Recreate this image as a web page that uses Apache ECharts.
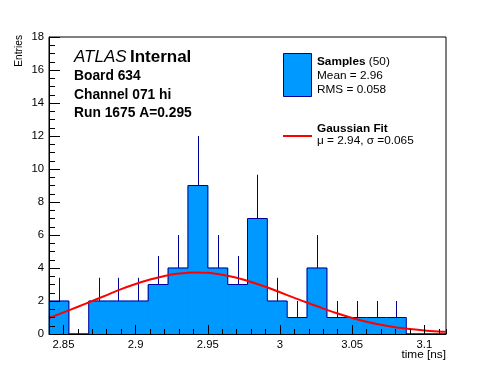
<!DOCTYPE html>
<html><head><meta charset="utf-8">
<script src="https://cdn.jsdelivr.net/npm/echarts@6/dist/echarts.min.js"></script>
<style>html,body{margin:0;padding:0;background:#fff}#c{width:496px;height:372px}</style>
</head><body><div id="c"></div>
<script>
// Histogram: 20 bins from 2.84 to 3.115
const binLow = 2.84;
const binWidth = 0.01375;
const counts = [2,0,2,2,2,3,4,9,4,3,7,2,1,4,1,1,1,1,0,0];
const errors = [1.41,0,1.41,1.41,1.41,1.73,2,3,2,1.73,2.65,1.41,1,2,1,1,1,1,0,0];
// Gaussian fit curve
const fitX = [2.84,2.85,2.86,2.87,2.88,2.89,2.90,2.91,2.92,2.93,2.94,2.95,2.96,2.97,2.98,2.99,3.00,3.01,3.02,3.03,3.04,3.05,3.06,3.07,3.08,3.09,3.10,3.11,3.115];
const fitY = [0.97,1.31,1.65,2.00,2.36,2.72,3.03,3.30,3.52,3.66,3.73,3.71,3.59,3.41,3.15,2.86,2.53,2.19,1.86,1.54,1.24,0.97,0.74,0.56,0.41,0.30,0.21,0.15,0.13];
const xTickLabels = ['2.85','2.9','2.95','3','3.05','3.1'];
const yTickLabels = ['0','2','4','6','8','10','12','14','16','18'];
const infoLines = ['Board 634','Channel 071 hi','Run 1675 A=0.295'];
const legendStats = ['Mean = 2.96','RMS = 0.058'];
const fitLabel = 'μ = 2.94, σ =0.065';

const FONT = '"Liberation Sans", Arial, Helvetica, sans-serif';
const NAVY = '#000099';
const FILL = '#0099ff';

const barData = counts.map((c,i)=>[binLow+i*binWidth, binLow+(i+1)*binWidth, c]);
const errData = counts.map((c,i)=>[binLow+(i+0.5)*binWidth, c, errors[i]]);
const outline = [];
counts.forEach((c,i)=>{ outline.push([binLow+i*binWidth, c]); outline.push([binLow+(i+1)*binWidth, c]); });
const fitData = fitX.map((x,i)=>[x, fitY[i]]);

const chart = echarts.init(document.getElementById('c'), null, {renderer:'canvas'});
const common = {type:'value', min:2.84, max:3.115, splitLine:{show:false}, z:10};
chart.setOption({
  animation:false,
  backgroundColor:'#fff',
  grid:{left:49, right:50, top:37, bottom:38, show:true, borderColor:'#000', borderWidth:1, backgroundColor:'#fff'},
  xAxis:[
    Object.assign({}, common, {
      splitNumber:5,
      axisLine:{show:true, lineStyle:{color:'#000', width:1}},
      axisTick:{show:true, inside:true, length:9, lineStyle:{color:'#000'}},
      axisLabel:{show:true, margin:5, color:'#000', fontSize:11.3, fontFamily:FONT,
        showMinLabel:false, showMaxLabel:false,
        formatter:v=>{ const s = String(+v.toFixed(3)); return xTickLabels.indexOf(s)>=0 ? s : ''; }}
    }),
    Object.assign({}, common, {
      interval:0.01, position:'bottom',
      axisLine:{show:false},
      axisTick:{show:true, inside:true, length:5, lineStyle:{color:'#000'}},
      axisLabel:{show:false}
    })
  ],
  yAxis:{type:'value', min:0, max:18, interval:2, splitLine:{show:false}, z:10,
    axisLine:{show:true, lineStyle:{color:'#000'}},
    axisTick:{show:true, inside:true, length:11, lineStyle:{color:'#000'}},
    minorTick:{show:true, splitNumber:4, length:6, lineStyle:{color:'#000'}},
    axisLabel:{margin:5, color:'#000', fontSize:11.3, fontFamily:FONT,
      formatter:v=>yTickLabels[Math.round(v/2)]}
  },
  series:[
    {type:'custom', name:'err', data:errData, encode:{x:0,y:1}, z:2,
      renderItem:(p,api)=>{
        const e = api.value(2); if(!e) return;
        const a = api.coord([api.value(0), api.value(1)-e]);
        const b = api.coord([api.value(0), api.value(1)+e]);
        return {type:'line', shape:{x1:Math.round(a[0])+0.5,y1:a[1],x2:Math.round(b[0])+0.5,y2:b[1]}, style:{stroke:NAVY, lineWidth:1}};
      }},
    {type:'custom', name:'bars', data:barData, encode:{x:[0,1],y:2}, z:3,
      renderItem:(p,api)=>{
        const c = api.value(2); if(!c) return;
        const a = api.coord([api.value(0), c]);
        const b = api.coord([api.value(1), 0]);
        const x0 = Math.round(a[0]), x1 = Math.round(b[0]);
        const y0 = Math.round(a[1]), y1 = Math.round(b[1]);
        return {type:'rect', shape:{x:x0, y:y0, width:x1-x0, height:y1-y0}, style:{fill:FILL, stroke:FILL, lineWidth:0.6}};
      }},
    {type:'line', name:'outline', data:outline, showSymbol:false, symbol:'none',
      lineStyle:{color:NAVY, width:1}, z:4},
    {type:'line', name:'fit', data:fitData, showSymbol:false, symbol:'none', smooth:0.3,
      lineStyle:{color:'#ff0000', width:2}, z:5}
  ],
  graphic:[
    {type:'text', x:19, y:35, rotation:Math.PI/2, style:{text:'Entries', font:'10.2px '+FONT, fill:'#000', align:'right', verticalAlign:'middle'}},
    {type:'text', x:446, y:355, style:{text:'time [ns]', font:'11.8px '+FONT, fill:'#000', align:'right', verticalAlign:'middle'}},
    {type:'text', x:74, y:57.5, style:{text:'{a|ATLAS} {b|Internal}', verticalAlign:'middle', fill:'#000',
      rich:{a:{fontStyle:'italic', fontSize:17, fontFamily:FONT, fill:'#000'}, b:{fontWeight:'bold', fontSize:17, fontFamily:FONT, fill:'#000'}}}},
    {type:'text', x:74, y:76.5, style:{text:infoLines[0], font:'bold 13.8px '+FONT, fill:'#000', verticalAlign:'middle'}},
    {type:'text', x:74, y:95, style:{text:infoLines[1], font:'bold 13.8px '+FONT, fill:'#000', verticalAlign:'middle'}},
    {type:'text', x:74, y:113.5, style:{text:infoLines[2], font:'bold 13.8px '+FONT, fill:'#000', verticalAlign:'middle'}},
    {type:'rect', shape:{x:283.5, y:53.5, width:28, height:43}, style:{fill:FILL, stroke:NAVY, lineWidth:1}},
    {type:'text', x:317, y:61.8, style:{text:'{b|Samples} {n|(50)}', verticalAlign:'middle', fill:'#000',
      rich:{b:{fontWeight:'bold', fontSize:11.8, fontFamily:FONT, fill:'#000'}, n:{fontSize:11.8, fontFamily:FONT, fill:'#000'}}}},
    {type:'text', x:317, y:76.2, style:{text:legendStats[0], font:'11.8px '+FONT, fill:'#000', verticalAlign:'middle'}},
    {type:'text', x:317, y:89.5, style:{text:legendStats[1], font:'11.8px '+FONT, fill:'#000', verticalAlign:'middle'}},
    {type:'line', shape:{x1:283, y1:136, x2:312, y2:136}, style:{stroke:'#ff0000', lineWidth:2}},
    {type:'text', x:317, y:128.4, style:{text:'Gaussian Fit', font:'bold 11.8px '+FONT, fill:'#000', verticalAlign:'middle'}},
    {type:'text', x:317, y:141.2, style:{text:fitLabel, font:'11.8px '+FONT, fill:'#000', verticalAlign:'middle'}}
  ]
});
</script></body></html>
